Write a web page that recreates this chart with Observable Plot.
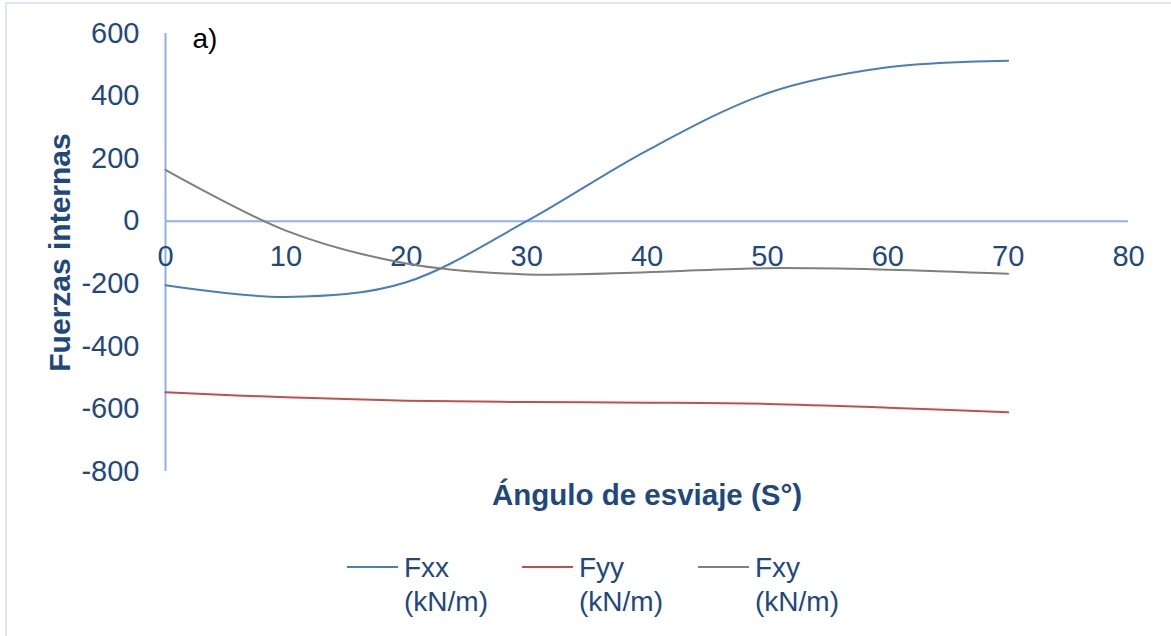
<!DOCTYPE html>
<html>
<head>
<meta charset="utf-8">
<script src="https://cdn.jsdelivr.net/npm/d3@7"></script>
<script src="https://cdn.jsdelivr.net/npm/@observablehq/plot@0.6"></script>
<style>
  html, body { margin: 0; padding: 0; background: #fff; overflow: hidden; }
  #wrap { position: relative; width: 1171px; height: 636px; font-family: "Liberation Sans", Arial, sans-serif; }
  #frame { position: absolute; left: 5px; top: 2px; width: 1200px; height: 700px; border: 2px solid #dce7f5; box-sizing: border-box; }
  #chart { position: absolute; left: 0; top: 0; }
  .leg { position: absolute; top: 551px; }
  .leg .sw { position: absolute; left: 0; top: 15px; width: 51px; height: 2px; }
  .leg .tx { position: absolute; left: 57px; top: 0; font-size: 28px; line-height: 34px; color: #1f497d; white-space: nowrap; }
</style>
</head>
<body>
<div id="wrap">
  <div id="frame"></div>
  <div id="chart"></div>
  <div id="legend"></div>
</div>
<script>
// Data
const angles = [0, 10, 20, 30, 40, 50, 60, 70];
const fxx = [-205, -242, -195, 0, 226, 409, 492, 513];
const fyy = [-547, -563, -574, -578, -580, -584, -596, -611];
const fxy = [164, -30, -135, -170, -163, -150, -155, -168];
const seriesNames = ["Fxx\n(kN/m)", "Fyy\n(kN/m)", "Fxy\n(kN/m)"];
const seriesColors = ["#4a7ebb", "#c0504d", "#7f7f7f"];
const xTicks = [0, 10, 20, 30, 40, 50, 60, 70, 80];
const yTicks = [600, 400, 200, 0, -200, -400, -600, -800];
const xTitle = "Ángulo de esviaje (S°)";
const yTitle = "Fuerzas internas";
const panelLabel = "a)";

const textColor = "#1f497d";
const axisColor = "#8db3e2";

const seriesValues = [fxx, fyy, fxy];
const rows = [];
seriesValues.forEach((vals, i) => {
  vals.forEach((v, j) => rows.push({serie: seriesNames[i], angle: angles[j], value: v, color: seriesColors[i]}));
});

const chart = Plot.plot({
  width: 1171,
  height: 530,
  marginTop: 33,
  marginBottom: 59,
  marginLeft: 165,
  marginRight: 43,
  style: {fontFamily: "'Liberation Sans', Arial, sans-serif", background: "transparent"},
  x: {domain: [0, 80], axis: null},
  y: {domain: [-800, 600], axis: null},
  marks: [
    Plot.ruleY([0], {x1: 0, x2: 80, stroke: axisColor, strokeWidth: 2}),
    Plot.ruleX([0], {y1: -800, y2: 600, stroke: axisColor, strokeWidth: 2}),
    Plot.text(yTicks, {x: 0, y: d => d, dx: -26, textAnchor: "end", lineAnchor: "middle", fontSize: 29, fill: textColor, text: d => String(d)}),
    Plot.text(xTicks, {x: d => d, y: 0, dy: 36, textAnchor: "middle", lineAnchor: "middle", fontSize: 29, fill: textColor, text: d => String(d)}),
    ...seriesNames.map((s, i) => Plot.line(rows.filter(r => r.serie === s), {
      x: "angle", y: "value", stroke: seriesColors[i], strokeWidth: 2, curve: "cardinal", tension: 0
    })),
    Plot.text([yTitle], {frameAnchor: "left", dx: -105, rotate: -90, textAnchor: "middle", lineAnchor: "middle", fontSize: 30, fontWeight: "bold", fill: textColor}),
    Plot.text([xTitle], {frameAnchor: "bottom", dy: 24, textAnchor: "middle", lineAnchor: "middle", fontSize: 29.5, fontWeight: "bold", fill: textColor}),
    Plot.text([panelLabel], {frameAnchor: "top-left", dx: 27, dy: 6, textAnchor: "start", lineAnchor: "middle", fontSize: 28, fill: "#000"})
  ]
});
document.getElementById("chart").appendChild(chart);

// Legend
const legendLefts = [347, 522, 698];
const legend = document.getElementById("legend");
seriesNames.forEach((s, i) => {
  const item = document.createElement("div");
  item.className = "leg";
  item.style.left = legendLefts[i] + "px";
  const sw = document.createElement("div");
  sw.className = "sw";
  sw.style.background = seriesColors[i];
  const tx = document.createElement("div");
  tx.className = "tx";
  tx.innerHTML = s.split("\n").join("<br>");
  item.appendChild(sw);
  item.appendChild(tx);
  legend.appendChild(item);
});
</script>
</body>
</html>
